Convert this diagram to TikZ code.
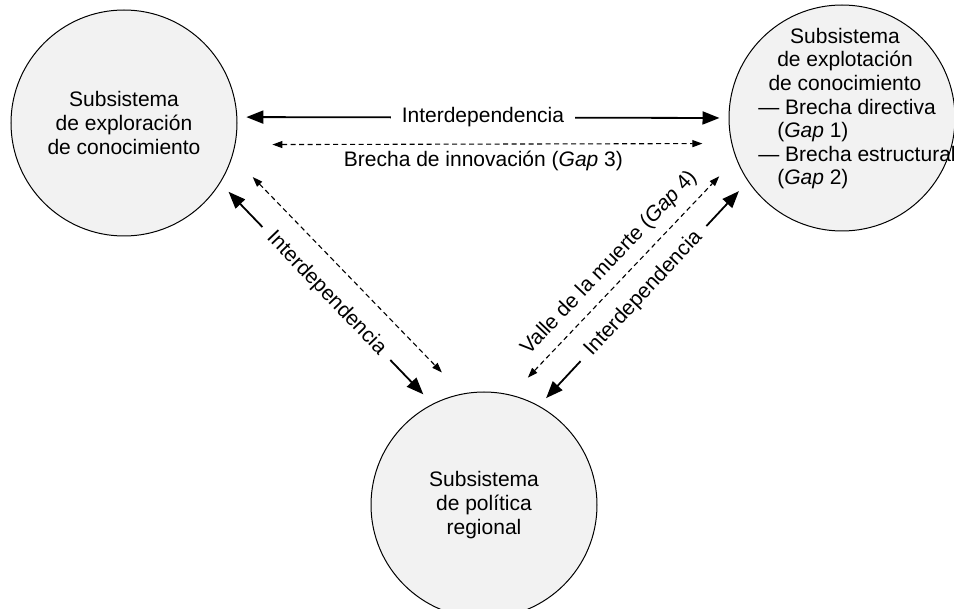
\documentclass[tikz,border=0pt]{standalone}
\usepackage{fontspec}
\setmainfont{Liberation Sans}
\usepackage{tikz}
\usetikzlibrary{arrows.meta}

\begin{document}
\begin{tikzpicture}[x=0.5pt, y=-0.5pt, >={Triangle[length=8.5pt,width=6.5pt]},
        font=\fontsize{10.5}{11.8}\selectfont,
        subsys/.style={draw, circle, line width=0.5pt, fill=gray!10, minimum size=113pt, inner sep=0pt, align=center},
        inter/.style={<->, line width=0.9pt},
        brecha/.style={{Triangle[length=5pt,width=3.5pt]}-{Triangle[length=5pt,width=3.5pt]}, line width=0.55pt, dash pattern=on 2.5pt off 1.75pt},
        lbl/.style={fill=white, inner xsep=5.5pt, inner ysep=1pt}]
        \useasboundingbox (0,0) rectangle (954,609);

        % Subsistemas
        \node[subsys] (expl) at (124,123) {Subsistema\\de exploración\\de conocimiento};
        \node[subsys] (expt) at (842,118) {};
        \node[align=center, inner sep=0pt] (expt-txt) at (845,110) {Subsistema\\de explotación\\de conocimiento\\
            \hspace*{12pt}\begin{tabular}[t]{@{}l@{}}— Brecha directiva\\\hspace{0.9em}(\textit{Gap} 1)\\— Brecha estructural\\\hspace{0.9em}(\textit{Gap} 2)\end{tabular}};
        \node[subsys] (pol) at (484,505) {Subsistema\\de política\\regional};

        % Interdependencia
        \draw[inter, shorten <=4.5pt, shorten >=4.5pt] (expl.3) -- (expt.180) node[midway, lbl] {Interdependencia};
        \draw[inter, shorten <=6pt, shorten >=6.6pt] (expl.-32) -- (pol.117) node[midway, lbl, sloped] {Interdependencia};
        \draw[inter, shorten <=5.2pt, shorten >=6.6pt] (pol.61.6) -- (expt.214.7) node[midway, lbl, sloped] {Interdependencia};

        % Brechas
        \draw[brecha, shorten <=18.5pt, shorten >=14.5pt] (expl.-11.2) -- (expt.193.8) node[midway, below] {Brecha de innovación (\textit{Gap} 3)};
        \draw[brecha, shorten <=14.5pt, shorten >=14.7pt] (expl.-17.6) -- (pol.101);
        \draw[brecha, shorten <=11.9pt, shorten >=12.2pt] (pol.76.4) -- (expt.201.5) node[midway, above=1.5pt, sloped] {Valle de la muerte (\textit{Gap} 4)};
    \end{tikzpicture}
\end{document}
